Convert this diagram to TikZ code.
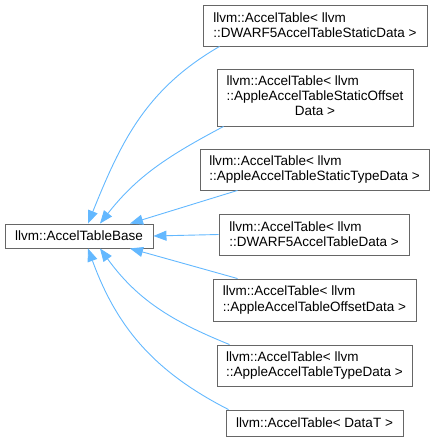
\documentclass[tikz,border=0pt]{standalone}
\usepackage{fontspec}
\setmainfont{Liberation Sans}
\usepackage{tikz}
\usetikzlibrary{positioning, calc, arrows.meta}
\definecolor{edgeblue}{HTML}{63B8FF}
\definecolor{boxgray}{HTML}{666666}

\begin{document}
\begin{tikzpicture}[
        x=1pt, y=-1pt,
        every node/.style={font=\fontsize{13.5}{15.3}\selectfont},
        cls/.style={draw=boxgray, line width=0.9pt, fill=white, inner sep=0pt, align=left},
        inh/.style={draw=edgeblue, line width=0.9pt, {Triangle[length=13pt,width=10pt]}-}
    ]
        \useasboundingbox (0,0) rectangle (434,441);

        % Nodes
        \node[cls, minimum width=148pt, minimum height=24pt] (base) at (79,236) {llvm::AccelTableBase};
        \node[cls, minimum width=224pt, minimum height=41pt] (dwarfstatic) at (315,25.5)
            {llvm::AccelTable< llvm\\::DWARF5AccelTableStaticData >};
        \node[cls, minimum width=196pt, minimum height=57pt] (applestaticoff) at (315,97.5)
            {\begin{tabular}{@{}l@{}}llvm::AccelTable< llvm\\::AppleAccelTableStaticOffset\\\multicolumn{1}{@{}c@{}}{Data >}\end{tabular}};
        \node[cls, minimum width=229pt, minimum height=41pt] (applestatictype) at (314.5,169.5)
            {llvm::AccelTable< llvm\\::AppleAccelTableStaticTypeData >};
        \node[cls, minimum width=190pt, minimum height=41pt] (dwarf) at (314,234.5)
            {llvm::AccelTable< llvm\\::DWARF5AccelTableData >};
        \node[cls, minimum width=203pt, minimum height=42pt] (appleoff) at (314.5,300)
            {llvm::AccelTable< llvm\\::AppleAccelTableOffsetData >};
        \node[cls, minimum width=195pt, minimum height=41pt] (appletype) at (314.5,365.5)
            {llvm::AccelTable< llvm\\::AppleAccelTableTypeData >};
        \node[cls, minimum width=177pt, minimum height=26pt] (generic) at (314.5,423)
            {llvm::AccelTable< DataT >};

        % Inheritance edges
        \draw[inh] ($(base.north)+(9,0)$) to[out=68, in=210] ($(dwarfstatic.south west)+(17,0)$);
        \draw[inh] ($(base.north)+(21,0)$) to[out=52, in=208] ($(applestaticoff.south west)+(7,0)$);
        \draw[inh] ($(base.north)+(51,0)$) -- ($(applestatictype.south west)+(38,0)$);
        \draw[inh] (base.east) -- (dwarf.west);
        \draw[inh] ($(base.south)+(51,0)$) -- ($(appleoff.north west)+(25,0)$);
        \draw[inh] ($(base.south)+(21,0)$) to[out=-54, in=158] ($(appletype.north west)+(13,0)$);
        \draw[inh] ($(base.south)+(9,0)$) to[out=-70, in=153] ($(generic.north west)+(3,0)$);
    \end{tikzpicture}
\end{document}
